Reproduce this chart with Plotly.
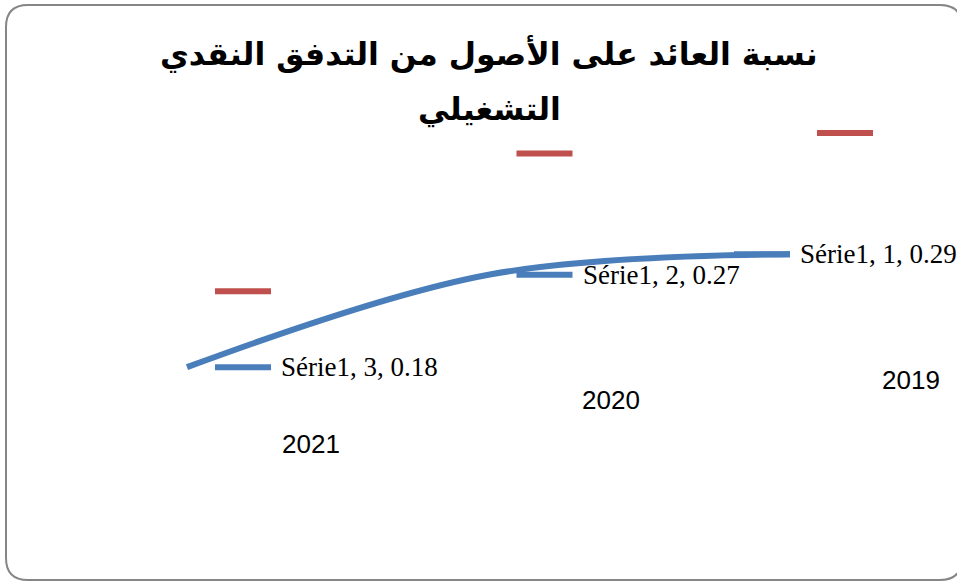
import plotly.graph_objects as go

# ---- data ----
categories = [1, 2, 3]
years = ["2019", "2020", "2021"]
serie1 = [0.29, 0.27, 0.18]
serie2 = [0.408, 0.388, 0.254]
series_name = "Série1"
title_lines = ["نسبة العائد على الأصول من التدفق النقدي", "التشغيلي"]

# ---- layout constants (pixels) ----
W, H = 957, 583
PX_PER_CAT = 301.5
PX_PER_UNIT = 1027.0
X_RIGHT_PX = 790           # pixel of category 1
Y_ZERO_PX = 552            # pixel of value 0
BLUE = "#4a7ebb"
RED = "#c0504d"

x_range = [1 + X_RIGHT_PX / PX_PER_CAT, 1 - (W - X_RIGHT_PX) / PX_PER_CAT]
y_range = [-(H - Y_ZERO_PX) / PX_PER_UNIT, Y_ZERO_PX / PX_PER_UNIT]

def dx(p):
    # pixel offset to x units (axis is reversed)
    return -p / PX_PER_CAT

def py(y):
    return 1 - y / H

def px(x):
    return x / W

DASH_LEN = 56
blue_dash_offsets = [-28, 56, 56]
red_dash_offsets = [55, 56, 56]
year_label_offsets = [90, 91, 93]
year_label_levels = [0.1675, 0.148, 0.105]

fig = go.Figure()

fig.add_trace(go.Scatter(
    x=categories, y=serie1, mode="lines",
    line=dict(color=BLUE, width=6, shape="spline", smoothing=1.0),
    hoverinfo="skip", showlegend=False))

# plotly's line-ew symbol is 1.4*size long
fig.add_trace(go.Scatter(
    x=[c + dx(o) for c, o in zip(categories, blue_dash_offsets)], y=serie1,
    mode="markers",
    marker=dict(symbol="line-ew", size=DASH_LEN / 1.4, color=BLUE,
                line=dict(color=BLUE, width=6)),
    hoverinfo="skip", showlegend=False))

fig.add_trace(go.Scatter(
    x=[c + dx(o) for c, o in zip(categories, red_dash_offsets)], y=serie2,
    mode="markers",
    marker=dict(symbol="line-ew", size=DASH_LEN / 1.4, color=RED,
                line=dict(color=RED, width=6)),
    hoverinfo="skip", showlegend=False))

annotations = []
for c, v, o in zip(categories, serie1, blue_dash_offsets):
    annotations.append(dict(
        x=c + dx(o + DASH_LEN / 2 + 8), y=v, xref="x", yref="y",
        text=f"{series_name}, {c}, {v:.2f}", showarrow=False,
        xanchor="left", yanchor="middle",
        font=dict(family="Liberation Serif", size=27, color="#000000")))

for c, yr, o, lvl in zip(categories, years, year_label_offsets, year_label_levels):
    annotations.append(dict(
        x=c + dx(o), y=lvl, xref="x", yref="y",
        text=yr, showarrow=False, xanchor="left", yanchor="middle",
        font=dict(family="Liberation Sans", size=26, color="#000000")))

for line, cy in zip(title_lines, [54, 109]):
    annotations.append(dict(
        x=px(489), y=py(cy), xref="paper", yref="paper",
        text=f"<b>{line}</b>", showarrow=False,
        xanchor="center", yanchor="middle", align="center",
        font=dict(family="DejaVu Sans", size=31.5, color="#000000")))

# rounded border
x0, y0, x1, y1, r = px(6), py(5), px(962), py(580), 22
rx, ry = r / W, r / H
path = (f"M {x0+rx},{y0} L {x1-rx},{y0} Q {x1},{y0} {x1},{y0-ry} "
        f"L {x1},{y1+ry} Q {x1},{y1} {x1-rx},{y1} L {x0+rx},{y1} "
        f"Q {x0},{y1} {x0},{y1+ry} L {x0},{y0-ry} Q {x0},{y0} {x0+rx},{y0} Z")

fig.update_layout(
    width=W, height=H,
    margin=dict(l=0, r=0, t=0, b=0),
    paper_bgcolor="white", plot_bgcolor="white",
    xaxis=dict(range=x_range, visible=False, fixedrange=True),
    yaxis=dict(range=y_range, visible=False, fixedrange=True),
    annotations=annotations,
    shapes=[dict(type="path", path=path, xref="paper", yref="paper",
                 line=dict(color="#868686", width=2), layer="below")],
)

fig.write_html(
    "out.html",
    config={"displayModeBar": False},
    post_script="document.body.style.margin='0';document.body.style.overflow='hidden';",
)
